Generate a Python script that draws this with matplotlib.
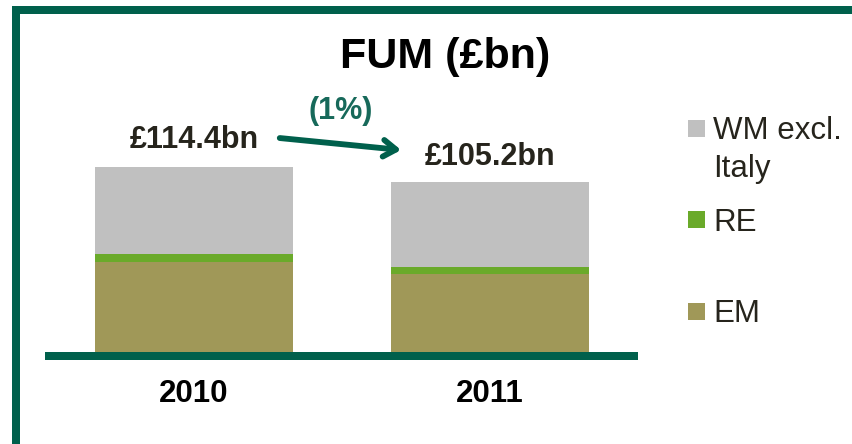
import matplotlib
matplotlib.use('Agg')
import matplotlib.pyplot as plt
from matplotlib.patches import Rectangle

plt.rcParams['font.family'] = ['Liberation Sans', 'DejaVu Sans']

# Data (GBP bn)
years = ['2010', '2011']
em = [55.7, 48.6]
re = [5.1, 4.1]
wm = [53.6, 52.5]
totals = ['£114.4bn', '£105.2bn']
change = '(1%)'
series_names = ['WM excl.\nItaly', 'RE', 'EM']

DARK = '#00604c'
TEAL = '#17695a'
GREY = '#c0c0c0'
GREEN = '#6aaa2a'
OLIVE = '#a09858'
TXT = '#26241c'

W, H = 852, 444
fig = plt.figure(figsize=(W / 100, H / 100), dpi=100)

def fx(px):
    return px / W

def fy(py):
    return 1 - py / H

# frame lines (top and left)
fig.add_artist(Rectangle((fx(12), fy(14)), fx(852) - fx(12), 8 / H,
                         transform=fig.transFigure, color=DARK, lw=0))
fig.add_artist(Rectangle((fx(12), 0), 8 / W, fy(6),
                         transform=fig.transFigure, color=DARK, lw=0))

# axes: zero line at pixel 352.3, 1.617 px per unit
scale = 1.617
ax_top, ax_bot = 60, 360.3
ax = fig.add_axes([fx(45), fy(ax_bot), fx(638) - fx(45), (ax_bot - ax_top) / H])
ax.set_xlim(-0.503, 1.5)
ax.set_ylim(-(ax_bot - 352.3) / scale, (352.3 - ax_top) / scale)
ax.axis('off')

x = [0, 1]
bw = 0.67
bottom_re = em
bottom_wm = [a + b for a, b in zip(em, re)]
ax.bar(x, em, width=bw, color=OLIVE)
ax.bar(x, re, width=bw, bottom=bottom_re, color=GREEN)
ax.bar(x, wm, width=bw, bottom=bottom_wm, color=GREY)

# baseline
ax.axhspan(ax.get_ylim()[0], 0, color=DARK, lw=0)

# totals
tops = [a + b for a, b in zip(bottom_wm, wm)]
ax.text(x[0], tops[0] + 17.0, totals[0], ha='center', va='center',
        fontsize=22, fontweight='bold', color=TXT)
ax.text(x[1], tops[1] + 15.3, totals[1], ha='center', va='center',
        fontsize=22, fontweight='bold', color=TXT)

# change arrow
ax.annotate('', xy=(0.70, 125.1), xytext=(0.29, 132.5),
            arrowprops=dict(arrowstyle='->,head_length=0.9,head_width=0.6',
                            lw=4.2, color=DARK, shrinkA=0, shrinkB=0),
            annotation_clip=False)
ax.text(0.497, 149.0, change, ha='center', va='center', fontsize=22,
        fontweight='bold', color=TEAL)

# year labels
for xi, yr in zip(x, years):
    ax.text(xi, -25.8, yr, ha='center', va='center', fontsize=22.5,
            fontweight='bold', color='black', clip_on=False)

# title
fig.text(fx(445), fy(57), 'FUM (£bn)', ha='center', va='center',
         fontsize=31, fontweight='bold', color='black')

# legend
leg_colors = [GREY, GREEN, OLIVE]
leg_y = [128.5, 220, 311]
for col, yy, name in zip(leg_colors, leg_y, series_names):
    fig.add_artist(Rectangle((fx(688), fy(yy + 8.5)), 17 / W, 17 / H,
                             transform=fig.transFigure, color=col, lw=0))
    for k, line in enumerate(name.split('\n')):
        fig.text(fx(713), fy(yy + 10.5 + 38 * k), line, ha='left',
                 va='baseline', fontsize=22.5, color=TXT)

fig.savefig('out.png', dpi=100)
